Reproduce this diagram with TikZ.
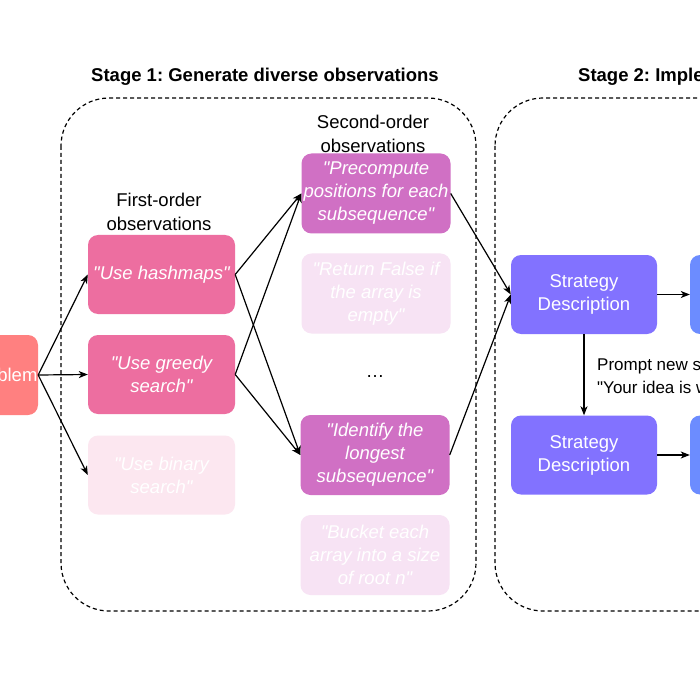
\documentclass[tikz,border=0pt]{standalone}
\usepackage{fontspec}
\setmainfont{Liberation Sans}[Ligatures=TeXOff]
\frenchspacing
\usetikzlibrary{arrows.meta}
\definecolor{probc}{HTML}{FF8080}
\definecolor{foc}{HTML}{ED6EA0}
\definecolor{fofade}{HTML}{FCE7F0}
\definecolor{soc}{HTML}{D070C4}
\definecolor{sofade}{HTML}{F7E3F4}
\definecolor{sdc}{HTML}{8272FF}
\definecolor{rc}{HTML}{6C8CFF}
\tikzset{
  box/.style={rectangle, rounded corners=10pt, inner sep=0pt, align=center, text=white,
    font=\fontsize{18.5}{23}\selectfont},
  obs/.style={box, font=\fontsize{18.5}{23}\selectfont\itshape},
  lbl/.style={inner sep=0pt, align=center, font=\fontsize{18.5}{24}\selectfont},
  stagebox/.style={draw, line width=1.2pt, dash pattern=on 4pt off 3pt, rounded corners=48pt},
  conn/.style={line width=1.2pt, -{Stealth[length=9pt,width=7pt,inset=2.5pt]}},
}
\begin{document}
\begin{tikzpicture}[x=1pt,y=-1pt]
\useasboundingbox (0,0) rectangle (700,700);
\clip (0,0) rectangle (700,700);
\fill[white] (0,0) rectangle (700,700);
% stage boxes
\draw[stagebox] (61,98) rectangle (476,611);
\draw[stagebox] (495,98) rectangle (950,611);
\node[lbl, font=\fontsize{18.5}{22}\selectfont\bfseries] (t1) at (265,77) {Stage 1: Generate diverse observations};
\node[lbl, font=\fontsize{18.5}{22}\selectfont\bfseries, anchor=west] (t2) at (578,77) {Stage 2: Imple};
% labels
\node[lbl] (fol) at (159,212) {First-order\\observations};
\node[lbl] (sol) at (373,134) {Second-order\\observations};
% problem
\node[box, fill=probc, minimum width=70pt, minimum height=80pt] (prob) at (3,375) {Problem};
% first order
\node[obs, fill=foc, minimum width=147pt, minimum height=79pt] (fo1) at (161.5,274.5) {"Use hashmaps"};
\node[obs, fill=foc, minimum width=147pt, minimum height=79pt] (fo2) at (161.5,374.5) {"Use greedy\\search"};
\node[obs, fill=fofade, minimum width=147pt, minimum height=79pt] (fo3) at (161.5,475) {"Use binary\\search"};
% second order
\node[obs, fill=soc, minimum width=149pt, minimum height=80pt] (soA) at (376,193.5) {"Precompute\\positions for each\\subsequence"};
\node[obs, fill=sofade, minimum width=149pt, minimum height=80pt] (soB) at (376,293.5) {"Return False if\\the array is\\empty"};
\node[lbl] (dots) at (375,377) {…};
\node[obs, fill=soc, minimum width=149pt, minimum height=80pt] (soC) at (375,455) {"Identify the\\longest\\subsequence"};
\node[obs, fill=sofade, minimum width=149pt, minimum height=80pt] (soD) at (375,555) {"Bucket each\\array into a size\\of root n"};
% stage 2
\node[box, fill=sdc, minimum width=146pt, minimum height=79pt] (sd1) at (584,294.5) {Strategy\\Description};
\node[box, fill=sdc, minimum width=146pt, minimum height=79pt] (sd2) at (584,455) {Strategy\\Description};
\node[box, fill=rc, minimum width=146pt, minimum height=79pt] (r1) at (763,294.5) {};
\node[box, fill=rc, minimum width=146pt, minimum height=79pt] (r2) at (763,455) {};
\node[lbl, anchor=west, align=left, font=\fontsize{17}{23}\selectfont] (pl) at (597,376) {Prompt new s\\"Your idea is w};
% connectors
\draw[conn] (prob.east) -- (fo1.west);
\draw[conn] (prob.east) -- (fo2.west);
\draw[conn] (prob.east) -- (fo3.west);
\draw[conn] (fo1.east) -- (soA.west);
\draw[conn] (fo1.east) -- (soC.west);
\draw[conn] (fo2.east) -- (soA.west);
\draw[conn] (fo2.east) -- (soC.west);
\draw[conn] (soA.east) -- (sd1.west);
\draw[conn] (soC.east) -- (sd1.west);
\draw[conn] (sd1.east) -- (r1.west);
\draw[conn] (sd2.east) -- (r2.west);
\draw[conn] (sd1.south) -- (sd2.north);
\end{tikzpicture}
\end{document}
